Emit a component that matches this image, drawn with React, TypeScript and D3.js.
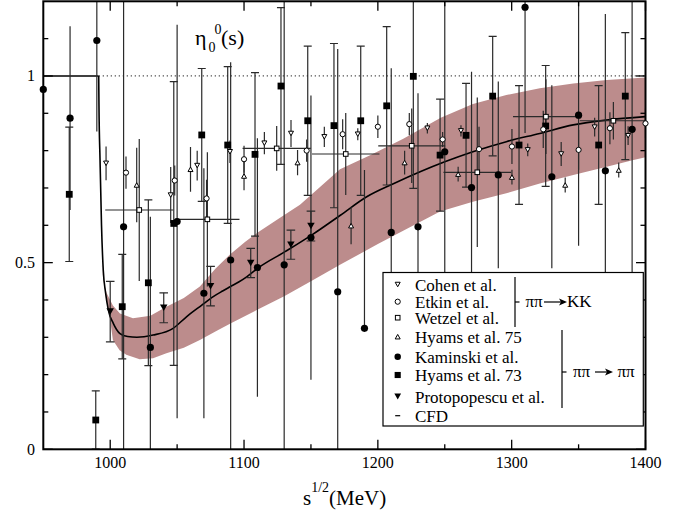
import React from "react";
import * as d3 from "d3";

// ---------- data ----------
const kamX = [950, 970, 990, 1010, 1030, 1050, 1070, 1090, 1110, 1130, 1150, 1170, 1190, 1210, 1230, 1250, 1270, 1290, 1310, 1330, 1350, 1370, 1390];
const kamY = [0.964, 0.887, 1.095, 0.596, 0.273, 0.61, 0.418, 0.507, 0.487, 0.494, 0.567, 0.422, 0.324, 0.581, 0.596, 0.797, 0.701, 0.735, 1.184, 0.73, 0.895, 0.746, 0.857];
const kamErrUp = [0, 0.246, 0.244, 0.7, 0.35, 0.527, 0.335, 0.53, 0.346, 0.75, 0.381, 0.65, 0.424, 0.44, 0.358, 0.45, 0.31, 0.25, 0.337, 0.245, 0.35, 0.42, 0.5];
const kamErrDown = [0, 0.246, 0.244, 0.7, 0.35, 0.527, 0.335, 0.53, 0.346, 0.75, 0.381, 0.65, 0, 0.44, 0.358, 0.45, 0.31, 0.25, 0.337, 0.245, 0.35, 0.42, 0.5];

const h73X = [969.4, 989.2, 1009, 1028.5, 1047.5, 1068.4, 1087.8, 1108.2, 1127.6, 1147.6, 1167.2, 1187.2, 1206.6, 1226.5, 1246.5, 1265.9, 1285.8, 1305.5, 1325.4, 1365, 1384.9];
const h73Y = [0.683, 0.0785, 0.382, 0.446, 0.605, 0.842, 0.815, 0.79, 0.973, 0.88, 0.867, 0.88, 0.92, 0.999, 0.788, 0.841, 0.946, 0.815, 0.866, 0.815, 0.946];
const h73Err = [0.18, 0.078, 0.14, 0.222, 0.38, 0.178, 0.21, 0.219, 0.21, 0.2, 0.22, 0.2, 0.212, 0.3, 0.15, 0.139, 0.16, 0.159, 0.162, 0.159, 0.17];

const proX = [1000, 1040, 1075, 1105, 1135, 1150];
const proY = [0.369, 0.379, 0.437, 0.499, 0.548, 0.598];
const proErr = [0.081, 0.04, 0.053, 0.039, 0.039, 0.04];

const cohX = [996.9, 1045.2, 1065, 1089.5, 1115.2, 1135.1, 1160, 1185, 1237, 1262.1, 1312, 1337, 1362, 1387];
const cohY = [0.766, 0.681, 0.76, 0.797, 0.82, 0.846, 0.837, 0.844, 0.86, 0.853, 0.802, 0.791, 0.863, 0.84];
const cohErr = [0.045, 0.075, 0.04, 0.03, 0.03, 0.036, 0.027, 0.016, 0.014, 0.015, 0.017, 0.032, 0.025, 0.025];

const etkX = [1011.8, 1048.2, 1072, 1100, 1146.8, 1173.7, 1200, 1223.5, 1248.4, 1275.6, 1300.2, 1323.6, 1350, 1373.4, 1400];
const etkY = [0.741, 0.72, 0.672, 0.777, 0.8, 0.844, 0.864, 0.871, 0.83, 0.804, 0.811, 0.857, 0.802, 0.86, 0.873];
const etkErr = [0.043, 0.04, 0.05, 0.036, 0.03, 0.04, 0.03, 0.03, 0.02, 0.06, 0.047, 0.05, 0.053, 0.043, 0.04];

const wetX = [1021.7, 1072.6, 1124.4, 1176, 1225.3, 1274.3, 1325.6, 1376];
const wetY = [0.641, 0.616, 0.806, 0.791, 0.813, 0.742, 0.891, 0.88];
const wetXErr = [25.4, 24, 25.5, 25.2, 25, 25.3, 24.6, 25];
const wetYErr = [0.19, 0.18, 0.06, 0.11, 0.1, 0.2, 0.1, 0.05];

const h75X = [1019.8, 1060, 1100, 1140, 1180, 1220, 1260, 1300.2, 1340, 1380];
const h75Y = [0.708, 0.75, 0.732, 0.768, 0.599, 0.768, 0.737, 0.729, 0.708, 0.748];
const h75Err = [0.1, 0.06, 0.038, 0.034, 0.05, 0.032, 0.02, 0.02, 0.02, 0.02];

// CFD curve and band
const curveX = [991.4, 991.6, 992.4, 993.5, 994.8, 996.5, 998.6, 1002.3, 1007.3, 1013, 1020, 1032, 1047, 1057, 1068, 1077, 1084, 1090, 1096, 1102, 1111, 1131, 1151, 1172, 1192, 1212, 1232, 1250, 1271, 1296, 1321, 1346, 1371, 1400];
const curveY = [1.0, 0.92, 0.775, 0.6, 0.48, 0.42, 0.373, 0.3375, 0.31, 0.302, 0.3, 0.306, 0.324, 0.355, 0.385, 0.409, 0.424, 0.436, 0.448, 0.462, 0.487, 0.53, 0.575, 0.627, 0.677, 0.712, 0.744, 0.77, 0.797, 0.824, 0.846, 0.869, 0.882, 0.891];
const bandUpX = [993.5, 995, 997.4, 1002, 1007.3, 1017, 1030, 1042, 1055, 1067, 1078.4, 1089.5, 1100.7, 1111.9, 1126.9, 1141.8, 1157, 1171.7, 1194.6, 1219, 1247, 1271, 1296, 1321, 1346, 1371, 1400];
const bandUpY = [0.5, 0.45, 0.418, 0.385, 0.364, 0.351, 0.358, 0.382, 0.405, 0.436, 0.483, 0.522, 0.555, 0.585, 0.62, 0.655, 0.703, 0.75, 0.788, 0.832, 0.888, 0.925, 0.949, 0.967, 0.98, 0.989, 0.996];
const bandLoX = [993.5, 997, 1000, 1002, 1007, 1012, 1022, 1032, 1042, 1055, 1067, 1080, 1089.5, 1109.5, 1130, 1150, 1171.7, 1200, 1225, 1246.5, 1271, 1296, 1321, 1346, 1371, 1391, 1400];
const bandLoY = [0.5, 0.4, 0.345, 0.293, 0.265, 0.253, 0.241, 0.244, 0.257, 0.272, 0.293, 0.318, 0.336, 0.373, 0.41, 0.45, 0.494, 0.55, 0.597, 0.637, 0.663, 0.686, 0.712, 0.735, 0.757, 0.775, 0.782];

const xMajor = [1000, 1100, 1200, 1300, 1400];
const xMinor = [1050, 1150, 1250, 1350];
const yMajor = [0, 0.5, 1];
const yMajorLabels = ["0", "0.5", "1"];
const yMinor = [0.1, 0.2, 0.3, 0.4, 0.6, 0.7, 0.8, 0.9, 1.1];

const legendLabels = ["Cohen et al.", "Etkin et al.", "Wetzel et al.", "Hyams et al. 75", "Kaminski et al.", "Hyams et al. 73", "Protopopescu et al.", "CFD"];
const legendTypes = ["cohen", "etkin", "wetzel", "h75", "kam", "h73", "pro", "cfd"];

// ---------- layout ----------
const W = 688, H = 510;
const L = 43.3, R = 645.5, T = 1.3, B = 449.3;
const x = d3.scaleLinear().domain([950, 1400]).range([L, R]);
const y = d3.scaleLinear().domain([0, 1.2]).range([B, T]);
const FONT = "Liberation Serif";
const BAR = "#2a2a2a";
const TS: React.CSSProperties = { fontFamily: FONT };

function Marker({ type, cx, cy, legend = false }: { type: string; cx: number; cy: number; legend?: boolean }) {
  const k = legend ? 0.9 : 1;
  switch (type) {
    case "kam":
      return <circle cx={cx} cy={cy} r={3.6 * k} fill="#000" />;
    case "h73": {
      const s = 6.8 * k;
      return <rect x={cx - s / 2} y={cy - s / 2} width={s} height={s} fill="#000" />;
    }
    case "pro": {
      const w = 7.5 * k, h = 6.5 * k;
      return <path d={`M${cx - w / 2},${cy - h / 2}L${cx + w / 2},${cy - h / 2}L${cx},${cy + h / 2}Z`} fill="#000" />;
    }
    case "cohen": {
      const w = 5, h = 4.5;
      return <path d={`M${cx - w / 2},${cy - h / 2}L${cx + w / 2},${cy - h / 2}L${cx},${cy + h / 2}Z`} fill="#fff" stroke="#000" strokeWidth={1} />;
    }
    case "h75": {
      const w = 5, h = 4.5;
      return <path d={`M${cx - w / 2},${cy + h / 2}L${cx + w / 2},${cy + h / 2}L${cx},${cy - h / 2}Z`} fill="#fff" stroke="#000" strokeWidth={1} />;
    }
    case "etkin":
      return <circle cx={cx} cy={cy} r={2.6} fill="#fff" stroke="#000" strokeWidth={1} />;
    case "wetzel": {
      const s = 4.6;
      return <rect x={cx - s / 2} y={cy - s / 2} width={s} height={s} fill="#fff" stroke="#000" strokeWidth={1} />;
    }
    case "cfd":
      return <line x1={cx - 2.5} x2={cx + 2.5} y1={cy} y2={cy} stroke="#000" strokeWidth={1.2} />;
  }
  return null;
}

function VBar({ xv, yv, up, down, cap }: { xv: number; yv: number; up: number; down: number; cap: number }) {
  const px = x(xv);
  const y1 = y(yv + up), y2 = y(yv - down);
  return (
    <g stroke={BAR} strokeWidth={1.2}>
      {up + down > 0 && <line x1={px} x2={px} y1={y1} y2={y2} />}
      {cap > 0 && up > 0 && <line x1={px - cap} x2={px + cap} y1={y1} y2={y1} />}
      {cap > 0 && down > 0 && <line x1={px - cap} x2={px + cap} y1={y2} y2={y2} />}
    </g>
  );
}

export default function App() {
  const bandPts: [number, number][] = [
    ...bandUpX.map((v, i) => [x(v), y(bandUpY[i])] as [number, number]),
    ...bandLoX.map((v, i) => [x(v), y(bandLoY[i])] as [number, number]).reverse(),
  ];
  const bandPath = d3.line().curve(d3.curveLinearClosed)(bandPts) || "";
  const curvePath =
    d3.line<number>().x((v) => x(v)).y((_, i) => y(curveY[i])).curve(d3.curveMonotoneX)(curveX) || "";
  const stepPath = `M${x(950)},${y(1)}L${x(991.4)},${y(1)}`;

  const tickLen = 9.5, minorLen = 5;

  return (
    <svg width={W} height={H} style={{ position: "absolute", left: 0, top: 0, background: "#fff", fontFamily: FONT }}>
      <defs>
        <clipPath id="plot">
          <rect x={L} y={T} width={R - L} height={B - T} />
        </clipPath>
      </defs>
      <g clipPath="url(#plot)">
        <path d={bandPath} fill="#bc8c8c" stroke="none" />
        <line x1={x(991.4)} x2={R} y1={y(1)} y2={y(1)} stroke="#555" strokeWidth={1.2} strokeDasharray="1.3,2.7" />
        <path d={stepPath} fill="none" stroke="#000" strokeWidth={1.6} />
        <path d={curvePath} fill="none" stroke="#000" strokeWidth={1.6} />

        {kamX.map((v, i) => <VBar key={"ke" + i} xv={v} yv={kamY[i]} up={kamErrUp[i]} down={kamErrDown[i]} cap={0} />)}
        {h73X.map((v, i) => <VBar key={"he" + i} xv={v} yv={h73Y[i]} up={h73Err[i]} down={h73Err[i]} cap={4} />)}
        {proX.map((v, i) => <VBar key={"pe" + i} xv={v} yv={proY[i]} up={proErr[i]} down={proErr[i]} cap={4.3} />)}
        {cohX.map((v, i) => <VBar key={"ce" + i} xv={v} yv={cohY[i]} up={cohErr[i]} down={cohErr[i]} cap={0} />)}
        {etkX.map((v, i) => <VBar key={"ee" + i} xv={v} yv={etkY[i]} up={etkErr[i]} down={etkErr[i]} cap={0} />)}
        {h75X.map((v, i) => <VBar key={"te" + i} xv={v} yv={h75Y[i]} up={h75Err[i]} down={h75Err[i]} cap={0} />)}
        {wetX.map((v, i) => (
          <g key={"we" + i}>
            <VBar xv={v} yv={wetY[i]} up={wetYErr[i]} down={wetYErr[i]} cap={0} />
            <line x1={x(v - wetXErr[i])} x2={x(v + wetXErr[i])} y1={y(wetY[i])} y2={y(wetY[i])} stroke={BAR} strokeWidth={1.2} />
          </g>
        ))}
      </g>

      <g stroke="#000" strokeWidth={1.3}>
        {xMajor.map((v) => (
          <g key={"xM" + v}>
            <line x1={x(v)} x2={x(v)} y1={B} y2={B - tickLen} />
            <line x1={x(v)} x2={x(v)} y1={T} y2={T + tickLen} />
          </g>
        ))}
        {xMinor.map((v) => (
          <g key={"xm" + v}>
            <line x1={x(v)} x2={x(v)} y1={B} y2={B - minorLen} />
            <line x1={x(v)} x2={x(v)} y1={T} y2={T + minorLen} />
          </g>
        ))}
        {yMajor.map((v) => (
          <g key={"yM" + v}>
            <line x1={L} x2={L + tickLen} y1={y(v)} y2={y(v)} />
            <line x1={R} x2={R - tickLen} y1={y(v)} y2={y(v)} />
          </g>
        ))}
        {yMinor.map((v) => (
          <g key={"ym" + v}>
            <line x1={L} x2={L + minorLen} y1={y(v)} y2={y(v)} />
            <line x1={R} x2={R - minorLen} y1={y(v)} y2={y(v)} />
          </g>
        ))}
      </g>
      <rect x={L} y={T} width={R - L} height={B - T} fill="none" stroke="#000" strokeWidth={2} />

      {/* markers drawn unclipped, as in the reference */}
      <g>
        {h73X.map((v, i) => <Marker key={"hm" + i} type="h73" cx={x(v)} cy={y(h73Y[i])} />)}
        {kamX.map((v, i) => <Marker key={"km" + i} type="kam" cx={x(v)} cy={y(kamY[i])} />)}
        {proX.map((v, i) => <Marker key={"pm" + i} type="pro" cx={x(v)} cy={y(proY[i])} />)}
        {cohX.map((v, i) => <Marker key={"cm" + i} type="cohen" cx={x(v)} cy={y(cohY[i])} />)}
        {etkX.map((v, i) => <Marker key={"em" + i} type="etkin" cx={x(v)} cy={y(etkY[i])} />)}
        {wetX.map((v, i) => <Marker key={"wm" + i} type="wetzel" cx={x(v)} cy={y(wetY[i])} />)}
        {h75X.map((v, i) => <Marker key={"tm" + i} type="h75" cx={x(v)} cy={y(h75Y[i])} />)}
      </g>

      {xMajor.map((v) => (
        <text key={"xl" + v} x={x(v)} y={B + 18.5} fontSize={16} textAnchor="middle" style={TS}>{v}</text>
      ))}
      {yMajor.map((v, i) => (
        <text key={"yl" + v} x={35} y={y(v) + 5.5} fontSize={16} textAnchor="end" style={TS}>{yMajorLabels[i]}</text>
      ))}

      <text x={303} y={505} fontSize={21} style={TS}>
        s<tspan fontSize={14} dy={-13}>1/2</tspan><tspan dy={13}>(MeV)</tspan>
      </text>

      <text x={195} y={45} fontSize={22} style={TS}>η</text>
      <text x={208.5} y={52} fontSize={14} style={TS}>0</text>
      <text x={214.5} y={34} fontSize={14} style={TS}>0</text>
      <text x={221} y={45} fontSize={22} style={TS}>(s)</text>

      <rect x={383} y={272.5} width={260.3} height={153.5} fill="#fff" stroke="#000" strokeWidth={1.2} />
      {legendLabels.map((lab, i) => {
        const cy = [284.5, 301.7, 317.7, 336.7, 356.7, 375, 396.5, 415.7][i];
        return (
          <g key={"lg" + i}>
            <Marker type={legendTypes[i]} cx={397.7} cy={cy} legend />
            <text x={415} y={cy + 6} fontSize={17} style={TS}>{lab}</text>
          </g>
        );
      })}
      <g stroke="#000" strokeWidth={1.2}>
        <line x1={515} x2={515} y1={277} y2={327} />
        <line x1={515} x2={519.5} y1={302} y2={302} />
        <line x1={562} x2={562} y1={330} y2={408} />
        <line x1={562} x2={566.5} y1={372} y2={372} />
        <line x1={544} x2={564} y1={302} y2={302} />
        <line x1={595} x2={610} y1={372} y2={372} />
      </g>
      <path d="M567,302 L559,298.5 L561,302 L559,305.5 Z" fill="#000" />
      <path d="M613,372 L605,368.5 L607,372 L605,375.5 Z" fill="#000" />
      <text x={525.5} y={307} fontSize={17} style={TS}>ππ</text>
      <text x={567} y={307} fontSize={17} style={TS}>KK</text>
      <text x={573} y={377} fontSize={17} style={TS}>ππ</text>
      <text x={617.5} y={377} fontSize={17} style={TS}>ππ</text>
    </svg>
  );
}
